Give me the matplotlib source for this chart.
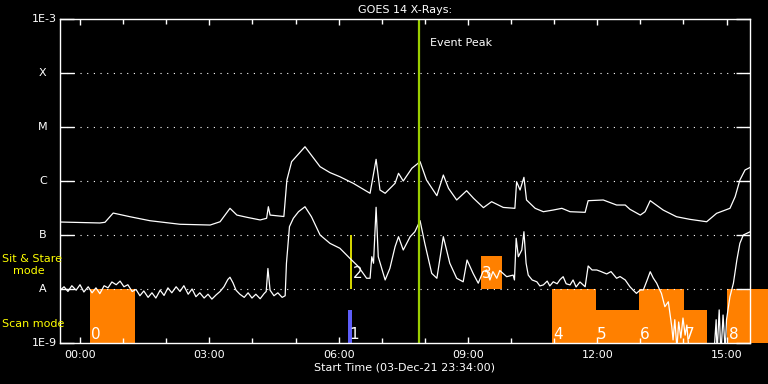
import matplotlib
matplotlib.use("Agg")
import matplotlib.pyplot as plt
from matplotlib.ticker import FixedLocator, MultipleLocator, NullLocator, FuncFormatter

# -- GOES long channel (1-8 A), hours after 00:00 / W m^-2 --
long_hours = [-0.46, 0.46, 0.58, 0.77, 1.16, 1.62, 2.32, 3.02, 3.25, 3.48, 3.64, 3.87,
              4.18, 4.33, 4.37, 4.41, 4.73, 4.80, 4.91, 5.22, 5.57, 5.80, 6.03, 6.34,
              6.73, 6.87, 6.96, 7.08, 7.31, 7.39, 7.50, 7.70, 7.89, 8.04, 8.28, 8.43,
              8.55, 8.74, 8.97, 9.13, 9.36, 9.55, 9.82, 10.09, 10.13, 10.21, 10.30, 10.36,
              10.56, 10.75, 10.98, 11.18, 11.37, 11.72, 11.79, 12.14, 12.45, 12.65, 12.76,
              13.00, 13.11, 13.23, 13.53, 13.84, 14.15, 14.54, 14.77, 15.08, 15.20, 15.31,
              15.43, 15.55]
long_flux = [1.74e-7, 1.67e-7, 1.72e-7, 2.55e-7, 2.18e-7, 1.84e-7, 1.58e-7, 1.53e-7, 1.76e-7,
             3.12e-7, 2.34e-7, 2.13e-7, 1.90e-7, 2.04e-7, 3.34e-7, 2.34e-7, 2.2e-7, 1.04e-6,
             2.28e-6, 4.31e-6, 1.84e-6, 1.43e-6, 1.20e-6, 9.06e-7, 5.92e-7, 2.52e-6, 6.81e-7,
             5.92e-7, 9.06e-7, 1.39e-6, 1.0e-6, 1.72e-6, 2.28e-6, 1.04e-6, 5.35e-7, 1.29e-6,
             7.32e-7, 4.45e-7, 6.61e-7, 4.79e-7, 3.21e-7, 4.14e-7, 3.24e-7, 3.12e-7, 9.7e-7,
             6.81e-7, 1.17e-6, 4.45e-7, 3.12e-7, 2.70e-7, 2.90e-7, 3.12e-7, 2.70e-7, 2.63e-7,
             4.32e-7, 4.45e-7, 3.59e-7, 3.59e-7, 2.99e-7, 2.34e-7, 2.70e-7, 4.32e-7, 2.90e-7,
             2.18e-7, 1.95e-7, 1.76e-7, 2.52e-7, 3.12e-7, 5.12e-7, 1.04e-6, 1.60e-6, 1.79e-6]

# -- GOES short channel (0.5-4 A) --
short_hours = [-0.46, -0.37, -0.28, -0.19, -0.09, 0.0, 0.09, 0.19, 0.28, 0.37, 0.46, 0.56,
               0.65, 0.74, 0.84, 0.93, 1.02, 1.11, 1.21, 1.30, 1.39, 1.48, 1.58, 1.67, 1.76,
               1.86, 1.95, 2.04, 2.13, 2.23, 2.32, 2.41, 2.51, 2.60, 2.69, 2.78, 2.88, 2.97,
               3.06, 3.16, 3.25, 3.34, 3.43, 3.48, 3.55, 3.62, 3.71, 3.81, 3.90, 3.99, 4.08,
               4.18, 4.27, 4.32, 4.36, 4.41, 4.50, 4.59, 4.69, 4.76,
               4.79, 4.86, 4.95, 5.07, 5.22, 5.37, 5.57, 5.80, 6.03, 6.26, 6.46, 6.65, 6.73,
               6.77, 6.81, 6.87, 6.92, 7.08, 7.19, 7.31, 7.39, 7.50, 7.66, 7.77, 7.89, 8.00,
               8.16, 8.28, 8.43, 8.58, 8.74, 8.89, 8.98, 9.12, 9.24, 9.35, 9.44, 9.51, 9.58,
               9.67, 9.74, 9.90, 10.05, 10.08, 10.12, 10.17, 10.25, 10.30, 10.35, 10.40, 10.49,
               10.60, 10.67, 10.75, 10.84, 10.90, 10.98, 11.07, 11.14, 11.21, 11.28, 11.37,
               11.44, 11.51, 11.60, 11.72, 11.79, 11.88, 11.99, 12.09, 12.22, 12.32, 12.45,
               12.53, 12.65, 12.76, 12.83, 12.91, 13.00, 13.07, 13.16, 13.23, 13.30, 13.38,
               13.43, 13.49, 13.57, 13.65, 13.73, 13.76, 13.80, 13.85, 13.89, 13.94, 13.99,
               14.04, 14.08, 14.13, 14.40, 14.70, 14.76, 14.78, 14.83, 14.87, 14.92, 14.97,
               15.00, 15.08, 15.16, 15.24, 15.31, 15.39, 15.55]
short_flux = [9.5e-9, 1.1e-8, 9.0e-9, 1.15e-8, 9.5e-9, 1.2e-8, 8.8e-9, 1.1e-8, 8.5e-9, 1.05e-8,
              8.2e-9, 1.15e-8, 1.05e-8, 1.35e-8, 1.2e-8, 1.4e-8, 1.1e-8, 1.2e-8, 9.0e-9, 9.8e-9,
              7.5e-9, 9.2e-9, 7.0e-9, 8.5e-9, 6.8e-9, 9.5e-9, 7.6e-9, 1.05e-8, 8.5e-9, 1.1e-8,
              9.0e-9, 1.15e-8, 8.0e-9, 1.0e-8, 7.2e-9, 8.5e-9, 6.8e-9, 8.0e-9, 6.5e-9, 7.8e-9,
              9.0e-9, 1.1e-8, 1.5e-8, 1.65e-8, 1.3e-8, 9.5e-9, 8.0e-9, 7.0e-9, 8.5e-9, 6.8e-9,
              8.0e-9, 6.6e-9, 8.2e-9, 9.0e-9, 2.4e-8, 9.5e-9, 7.5e-9, 8.5e-9, 7.0e-9, 7.5e-9,
              3.0e-8, 1.43e-7, 2.04e-7, 2.70e-7, 3.34e-7, 2.18e-7, 1.0e-7, 7.0e-8, 5.68e-8,
              3.71e-8, 2.59e-8, 1.58e-8, 1.58e-8, 3.96e-8, 3.0e-8, 3.26e-7, 3.96e-8, 1.47e-8,
              2.41e-8, 6.07e-8, 9.3e-8, 5.27e-8, 9.3e-8, 1.15e-7, 1.84e-7, 7.0e-8, 1.95e-8,
              1.58e-8, 9.3e-8, 3.0e-8, 1.58e-8, 1.36e-8, 3.44e-8, 1.95e-8, 1.28e-8, 2.1e-8,
              2.25e-8, 1.47e-8, 2.1e-8, 1.58e-8, 2.2e-8, 1.69e-8, 1.81e-8, 1.47e-8, 8.7e-8,
              3.96e-8, 5.27e-8, 1.15e-7, 3.0e-8, 1.81e-8, 1.47e-8, 1.36e-8, 1.14e-8, 1.19e-8,
              1.4e-8, 1.14e-8, 1.36e-8, 1.25e-8, 1.5e-8, 1.69e-8, 1.25e-8, 1.19e-8, 1.47e-8,
              1.09e-8, 1.35e-8, 1.1e-8, 2.67e-8, 2.25e-8, 2.25e-8, 2.1e-8, 1.9e-8, 2.1e-8,
              1.58e-8, 1.7e-8, 1.47e-8, 1.1e-8, 9.6e-9, 8.3e-9, 9.6e-9, 9.6e-9, 1.47e-8,
              2.09e-8, 1.6e-8, 1.28e-8, 1.04e-8, 8.3e-9, 4.7e-9, 5.8e-9, 2.0e-9, 1.14e-9,
              2.7e-9, 8e-10, 2.45e-9, 1.24e-9, 2.9e-9, 1.4e-9, 2.15e-9, 7e-10, 5e-10, 5e-10,
              2.7e-9, 6e-10, 4.1e-9, 6e-10, 3.3e-9, 7e-10, 2.7e-9, 7.2e-9, 1.28e-8, 3.44e-8,
              7.0e-8, 1.0e-7, 1.15e-7]

# -- IRIS observations --
obs_ids = ["0", "1", "2", "3", "4", "5", "6", "7", "8"]
obs_start = [0.23, 6.21, 6.29, 9.30, 10.95, 11.97, 12.97, 14.01, 15.02]
obs_end = [1.27, 6.31, 6.29, 9.79, 11.97, 12.97, 14.01, 14.54, 15.96]
obs_low = [1e-9, 1e-9, 1e-8, 1e-8, 1e-9, 1e-9, 1e-9, 1e-9, 1e-9]
obs_high = [1e-8, 4.1e-9, 1e-7, 4.1e-8, 1e-8, 4.1e-9, 1e-8, 4.1e-9, 1e-8]

peak_time = 7.87
level_values = [1e-9, 1e-8, 1e-7, 1e-6, 1e-5, 1e-4, 1e-3]
level_names = ["1E-9", "A", "B", "C", "M", "X", "1E-3"]

obs_colors = {"1": "#5e5efa", "2": "#ffff00"}

fig = plt.figure(figsize=(7.68, 3.84), dpi=100, facecolor="black")
ax = fig.add_axes([60 / 768, 41 / 384, 690 / 768, 324 / 384])
ax.set_facecolor("black")
ax.set_yscale("log")
ax.set_ylim(1e-9, 1e-3)
ax.set_xlim(-0.464, 15.545)

# -- observation blocks --
for i, name in enumerate(obs_ids):
    col = obs_colors.get(name, "#ff8000")
    if obs_end[i] > obs_start[i]:
        bars = ax.bar(obs_start[i], obs_high[i] - obs_low[i], bottom=obs_low[i],
                      width=obs_end[i] - obs_start[i], align="edge", color=col,
                      linewidth=0, zorder=1)
        for b in bars:
            b.set_clip_on(False)
    else:
        ax.vlines(obs_start[i], obs_low[i], obs_high[i], color=col, lw=1.2, zorder=1)
    ybase = 1.6e-8 if obs_low[i] >= 1e-8 else 1.2e-9
    ax.text(obs_start[i] + 0.03, ybase, name, color="white", fontsize=11,
            ha="left", va="baseline", zorder=5)

# -- dotted level lines --
for lv in level_values[1:-1]:
    ax.axhline(lv, color="white", lw=0.8, ls=(0, (1, 5)), zorder=2)

ax.plot(long_hours, long_flux, color="white", lw=0.9, zorder=3)
ax.plot(short_hours, short_flux, color="white", lw=0.9, zorder=3)

ax.axvline(peak_time, color="#9acd00", lw=1.6, zorder=4)
ax.text(8.11, 3.6e-4, "Event Peak", color="white", fontsize=8, ha="left", va="center")

# -- axes styling --
for sp in ax.spines.values():
    sp.set_color("white")
    sp.set_linewidth(1)
    sp.set_zorder(6)

ax.yaxis.set_major_locator(FixedLocator(level_values))
ax.yaxis.set_minor_locator(NullLocator())
ax.tick_params(axis="y", which="major", direction="in", length=10, width=1,
               color="white", left=True, right=True, labelleft=False)
ax.xaxis.set_major_locator(MultipleLocator(3))
ax.xaxis.set_minor_locator(MultipleLocator(1))
ax.xaxis.set_major_formatter(FuncFormatter(lambda v, p: f"{int(round(v)):02d}:00"))
ax.tick_params(axis="x", which="major", direction="in", length=4.5, width=1,
               color="white", top=True, bottom=True, labelcolor="white",
               labelsize=8, pad=5)
ax.tick_params(axis="x", which="minor", direction="in", length=3.3, width=1,
               color="white", top=True, bottom=True)

ytr = ax.get_yaxis_transform()
for lv, nm in zip(level_values, level_names):
    if nm.startswith("1E"):
        ax.text(-0.004, lv, nm, transform=ytr, color="white", fontsize=8,
                ha="right", va="center", clip_on=False)
    else:
        ax.text(-0.025, lv, nm, transform=ytr, color="white", fontsize=8,
                ha="center", va="center", clip_on=False)

fig.text(405 / 768, 1 - 10 / 384, "GOES 14 X-Rays:", color="white", fontsize=8,
         ha="center", va="center")
fig.text(405 / 768, 1 - 368 / 384, "Start Time (03-Dec-21 23:34:00)", color="white",
         fontsize=8, ha="center", va="center")
fig.text(2 / 768, 1 - 259 / 384, "Sit & Stare", color="#ffff00", fontsize=8,
         ha="left", va="center")
fig.text(13 / 768, 1 - 271 / 384, "mode", color="#ffff00", fontsize=8,
         ha="left", va="center")
fig.text(2 / 768, 1 - 324 / 384, "Scan mode", color="#ffff00", fontsize=8,
         ha="left", va="center")

fig.savefig("out.png", dpi=100, facecolor="black")
